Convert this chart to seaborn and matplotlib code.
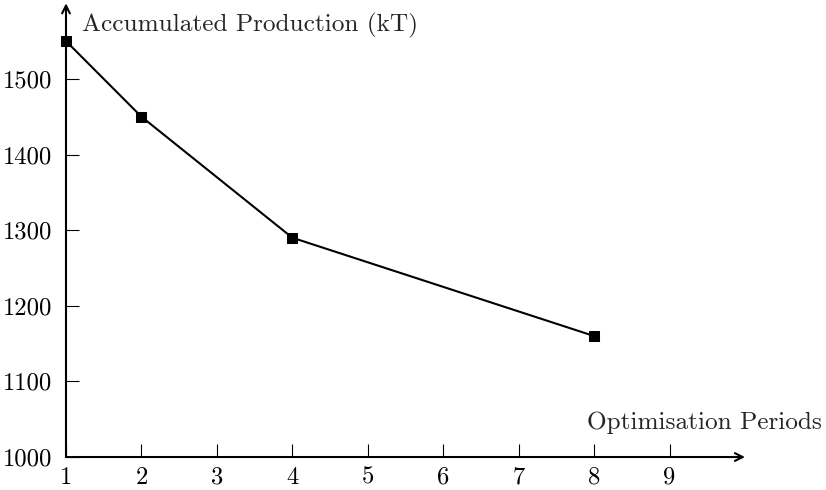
import pandas as pd
import numpy as np
import seaborn as sns
import matplotlib.pyplot as plt

# data
periods = [1, 2, 4, 8]
production = [1550, 1450, 1290, 1160]
x_ticks = [1, 2, 3, 4, 5, 6, 7, 8, 9]
y_ticks = [1000, 1100, 1200, 1300, 1400, 1500]

sns.set_style("white")
plt.rcParams['font.family'] = ['cmr10', 'DejaVu Serif']
plt.rcParams['axes.formatter.use_mathtext'] = True

df = pd.DataFrame({'Periods': periods, 'Production': production})

fig = plt.figure(figsize=(8.26, 4.90), dpi=100)
ax = fig.add_axes([0.0799, 0.0673, 0.822, 0.926])

sns.lineplot(data=df, x='Periods', y='Production', ax=ax, color='black',
             linewidth=1.5, marker='s', markersize=6.5, markeredgecolor='black',
             clip_on=False, zorder=5)

ax.set_xlim(1, 10)
ax.set_ylim(1000, 1600)
ax.set_xticks(x_ticks)
ax.set_yticks(y_ticks)
ax.set_xticklabels([str(t) for t in x_ticks])
ax.set_yticklabels([str(t) for t in y_ticks])
ax.tick_params(axis='both', direction='in', length=9.5, width=0.8, color='black',
               labelsize=17.8, labelcolor='black', bottom=True, left=True)
ax.tick_params(axis='x', pad=7)
ax.tick_params(axis='y', pad=10)
ax.set_xlabel('')
ax.set_ylabel('')
for s in ax.spines.values():
    s.set_visible(False)

# axis lines with arrow heads
ax.annotate('', xy=(1.0, 0), xytext=(0, 0), xycoords='axes fraction',
            arrowprops=dict(arrowstyle='->', color='black', lw=1.5,
                            shrinkA=0, shrinkB=0, mutation_scale=14))
ax.annotate('', xy=(0, 1.0), xytext=(0, 0), xycoords='axes fraction',
            arrowprops=dict(arrowstyle='->', color='black', lw=1.5,
                            shrinkA=0, shrinkB=0, mutation_scale=14))

fig.text(82 / 826, 1 - 25 / 490, 'Accumulated Production (kT)', fontsize=18.2,
         ha='left', va='center')
fig.text(822 / 826, 1 - 423 / 490, 'Optimisation Periods', fontsize=18.2,
         ha='right', va='center')

fig.savefig('out.png', dpi=100)
